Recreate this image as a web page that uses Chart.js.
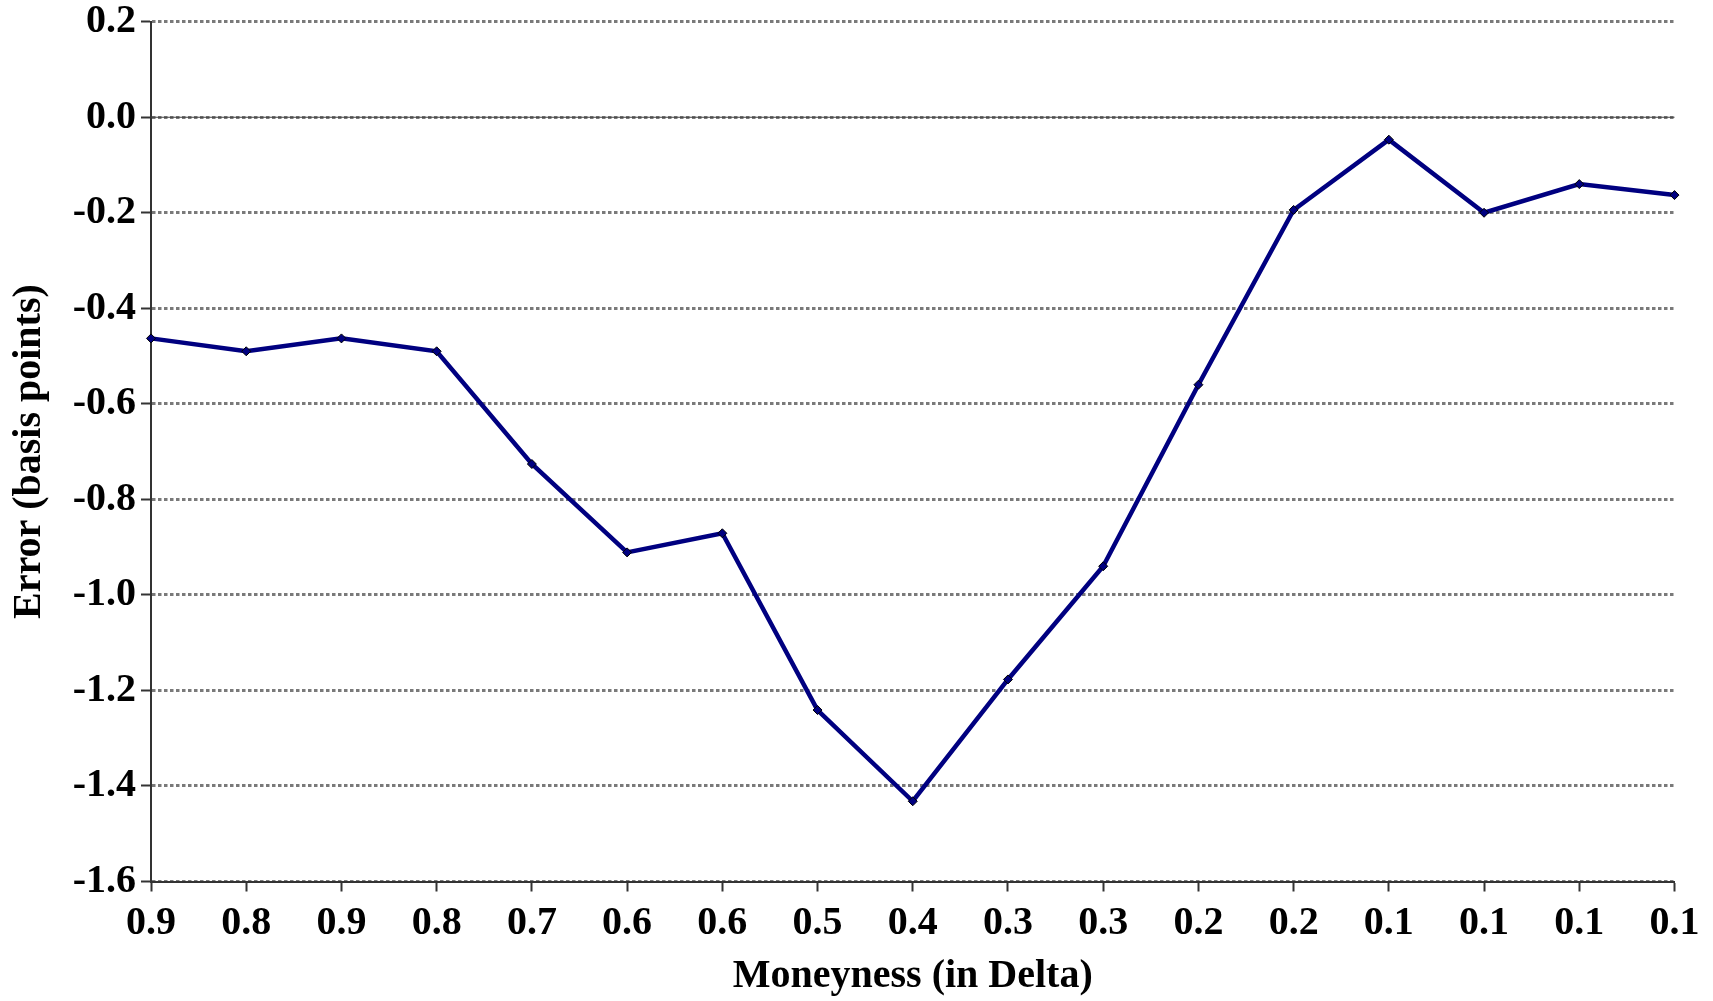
<!DOCTYPE html>
<html>
<head>
<meta charset="utf-8">
<script src="https://cdn.jsdelivr.net/npm/chart.js@4.4.0/dist/chart.umd.min.js"></script>
<style>
  html, body { margin: 0; padding: 0; background: #ffffff; }
  #wrap { width: 1713px; height: 1001px; }
</style>
</head>
<body>
<div id="wrap"><canvas id="c" width="1713" height="1001"></canvas></div>
<script>
// Data
const categories = ['0.9','0.8','0.9','0.8','0.7','0.6','0.6','0.5','0.4','0.3','0.3','0.2','0.2','0.1','0.1','0.1','0.1'];
const errorValues = [-0.463,-0.490,-0.463,-0.490,-0.726,-0.911,-0.871,-1.241,-1.432,-1.177,-0.940,-0.560,-0.194,-0.047,-0.200,-0.140,-0.163];
const yMin = -1.6;
const yMax = 0.2;
const yStep = 0.2;
const xTitle = 'Moneyness (in Delta)';
const yTitle = 'Error (basis points)';

const FONT = "'Liberation Serif', 'Times New Roman', serif";
const AXIS_COLOR = '#333333';

const zeroLine = {
  id: 'zeroLine',
  beforeDatasetsDraw(chart) {
    const y = chart.scales.y.getPixelForValue(0);
    const a = chart.chartArea;
    const ctx = chart.ctx;
    ctx.save();
    ctx.strokeStyle = '#404040';
    ctx.lineWidth = 1.2;
    ctx.beginPath();
    ctx.moveTo(a.left, y);
    ctx.lineTo(a.right, y);
    ctx.stroke();
    ctx.restore();
  }
};

new Chart(document.getElementById('c'), {
  type: 'line',
  data: {
    labels: categories,
    datasets: [{
      label: 'Error',
      data: errorValues,
      borderColor: '#000080',
      borderWidth: 4.5,
      tension: 0,
      fill: false,
      clip: false,
      pointStyle: 'rectRot',
      pointRadius: 4.5,
      pointBackgroundColor: '#000080',
      pointBorderColor: '#000000',
      pointBorderWidth: 1
    }]
  },
  options: {
    responsive: false,
    devicePixelRatio: 1,
    animation: false,
    layout: { padding: { left: 0, top: 21.7, right: 38.5, bottom: 0 } },
    plugins: {
      legend: { display: false },
      tooltip: { enabled: false }
    },
    scales: {
      x: {
        type: 'category',
        offset: false,
        grid: {
          display: true,
          drawOnChartArea: false,
          drawTicks: true,
          tickLength: 10,
          tickWidth: 2,
          tickColor: AXIS_COLOR,
          tickBorderDash: []
        },
        border: { display: true, color: AXIS_COLOR, width: 2 },
        ticks: {
          color: '#000000',
          padding: 12,
          maxRotation: 0,
          autoSkip: false,
          font: { family: FONT, size: 40, weight: 'bold', lineHeight: 1 }
        },
        title: {
          display: true,
          text: xTitle,
          color: '#000000',
          padding: { top: 0, bottom: 0 },
          font: { family: FONT, size: 40, weight: 'bold', lineHeight: 1.2 }
        },
        afterFit(scale) { scale.height = 119.5; }
      },
      y: {
        min: yMin,
        max: yMax,
        grid: {
          display: true,
          drawOnChartArea: true,
          drawTicks: true,
          color: '#7a7a7a',
          lineWidth: 3,
          tickLength: 10,
          tickWidth: 2,
          tickColor: AXIS_COLOR,
          tickBorderDash: []
        },
        border: { display: true, color: AXIS_COLOR, width: 2, dash: [3.5, 2.5] },
        ticks: {
          stepSize: yStep,
          color: '#000000',
          padding: 5,
          font: { family: FONT, size: 40, weight: 'bold', lineHeight: 0.8 },
          callback(v) {
            const n = Math.abs(v) < 1e-9 ? 0 : v;
            return n.toFixed(1);
          }
        },
        title: {
          display: true,
          text: yTitle,
          color: '#000000',
          padding: { top: 5.5, bottom: 0 },
          font: { family: FONT, size: 40, weight: 'bold', lineHeight: 1.2 }
        },
        afterFit(scale) { scale.width = 151; }
      }
    }
  },
  plugins: [zeroLine]
});
</script>
</body>
</html>
